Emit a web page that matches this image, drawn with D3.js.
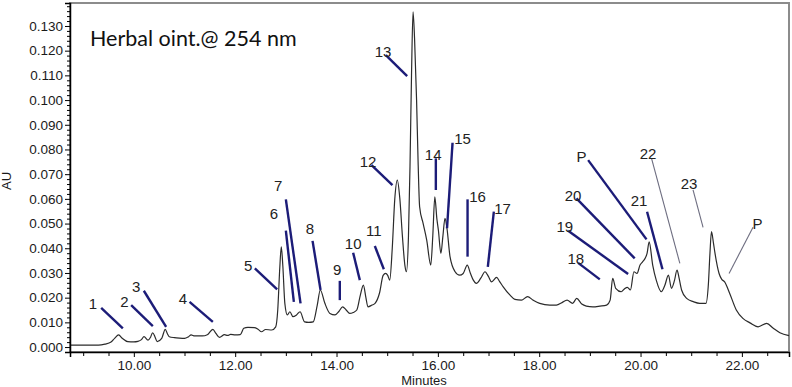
<!DOCTYPE html>
<html>
<head>
<meta charset="utf-8">
<script src="https://cdn.jsdelivr.net/npm/d3@7/dist/d3.min.js"></script>
<style>
  html, body { margin: 0; padding: 0; background: #fff; }
  svg { display: block; }
</style>
</head>
<body>
<svg id="chart" width="792" height="387"></svg>
<script>
// ---------------- DATA ----------------
const minutes = [8.74,9.00,9.30,9.43,9.55,9.62,9.70,9.77,9.88,10.00,10.08,10.15,10.20,10.28,10.33,10.37,10.42,10.46,10.55,10.62,10.66,10.70,10.80,10.90,11.00,11.08,11.13,11.20,11.35,11.45,11.56,11.62,11.69,11.79,11.85,11.91,12.00,12.10,12.17,12.25,12.38,12.45,12.52,12.60,12.72,12.80,12.84,12.88,12.91,12.94,12.98,13.03,13.08,13.14,13.21,13.28,13.37,13.45,13.54,13.62,13.68,13.77,13.87,13.97,14.05,14.12,14.19,14.26,14.33,14.40,14.47,14.53,14.58,14.62,14.70,14.76,14.85,14.92,14.97,15.01,15.05,15.10,15.15,15.20,15.25,15.30,15.35,15.38,15.42,15.45,15.48,15.51,15.54,15.58,15.61,15.64,15.71,15.78,15.86,15.90,15.94,15.98,16.01,16.06,16.10,16.14,16.18,16.24,16.34,16.43,16.50,16.58,16.64,16.70,16.76,16.85,16.93,17.00,17.06,17.16,17.22,17.29,17.42,17.52,17.65,17.77,17.88,18.01,18.21,18.34,18.45,18.55,18.66,18.74,18.84,18.93,19.06,19.20,19.33,19.40,19.45,19.51,19.62,19.68,19.74,19.80,19.87,19.93,19.99,20.04,20.09,20.13,20.17,20.24,20.31,20.41,20.48,20.55,20.61,20.67,20.72,20.76,20.81,20.91,21.04,21.17,21.29,21.34,21.37,21.40,21.44,21.47,21.55,21.60,21.66,21.76,21.89,22.02,22.16,22.32,22.49,22.62,22.75,22.93];
const absorbance = [0.0008,0.0008,0.0008,0.0012,0.0020,0.0035,0.0049,0.0036,0.0022,0.0021,0.0023,0.0030,0.0042,0.0028,0.0040,0.0058,0.0040,0.0022,0.0035,0.0072,0.0055,0.0042,0.0038,0.0036,0.0035,0.0042,0.0049,0.0045,0.0045,0.0050,0.0072,0.0055,0.0039,0.0050,0.0047,0.0051,0.0049,0.0050,0.0076,0.0080,0.0079,0.0072,0.0062,0.0071,0.0069,0.0082,0.0150,0.0320,0.0406,0.0330,0.0177,0.0130,0.0143,0.0123,0.0130,0.0143,0.0102,0.0100,0.0102,0.0170,0.0231,0.0177,0.0136,0.0130,0.0145,0.0163,0.0150,0.0136,0.0140,0.0150,0.0210,0.0251,0.0200,0.0163,0.0170,0.0177,0.0220,0.0290,0.0298,0.0290,0.0271,0.0400,0.0600,0.0676,0.0600,0.0450,0.0330,0.0305,0.0450,0.0730,0.1100,0.1357,0.1250,0.1000,0.0750,0.0568,0.0500,0.0433,0.0332,0.0450,0.0608,0.0520,0.0474,0.0379,0.0450,0.0521,0.0480,0.0366,0.0305,0.0291,0.0298,0.0332,0.0300,0.0271,0.0258,0.0280,0.0305,0.0285,0.0264,0.0282,0.0265,0.0244,0.0211,0.0193,0.0190,0.0204,0.0190,0.0177,0.0170,0.0170,0.0180,0.0190,0.0177,0.0197,0.0174,0.0166,0.0163,0.0166,0.0170,0.0190,0.0278,0.0238,0.0224,0.0235,0.0242,0.0231,0.0305,0.0298,0.0332,0.0345,0.0359,0.0380,0.0426,0.0332,0.0271,0.0224,0.0250,0.0291,0.0238,0.0270,0.0312,0.0280,0.0231,0.0197,0.0184,0.0177,0.0177,0.0258,0.0380,0.0467,0.0420,0.0379,0.0298,0.0275,0.0264,0.0217,0.0150,0.0116,0.0098,0.0082,0.0096,0.0076,0.0058,0.0046];

const xTickLabels = ["10.00","12.00","14.00","16.00","18.00","20.00","22.00"];
const yTickLabels = ["0.000","0.010","0.020","0.030","0.040","0.050","0.060","0.070","0.080","0.090","0.100","0.110","0.120","0.130"];

// peak annotations (in data units: minutes / AU)
const peakIds    = ["1","2","3","4","5","6","7","8","9","10","11","12","13","14","15","16","17","P1","20","19","18","21","22","23","P2"];
const peakText   = ["1","2","3","4","5","6","7","8","9","10","11","12","13","14","15","16","17","P","20","19","18","21","22","23","P"];
const labelT     = [9.191,9.816,10.045,10.967,12.256,12.763,12.848,13.473,14.012,14.328,14.737,14.624,14.920,15.907,16.487,16.783,17.276,18.836,18.668,18.506,18.723,19.971,20.150,20.959,22.307];
const labelV     = [0.0178,0.0183,0.0244,0.0197,0.0332,0.0541,0.0656,0.0481,0.0315,0.0420,0.0471,0.0750,0.1196,0.0781,0.0845,0.0609,0.0562,0.0773,0.0615,0.0490,0.0359,0.0595,0.0784,0.0663,0.0501];
const leadT1     = [9.355,9.947,10.197,11.099,12.388,13.000,13.000,13.527,14.065,14.328,14.756,14.691,14.973,15.960,16.290,16.586,17.105,18.966,18.735,18.571,18.768,20.129,20.217,21.036,22.220];
const leadV1     = [0.0159,0.0170,0.0228,0.0183,0.0319,0.0471,0.0598,0.0430,0.0268,0.0382,0.0409,0.0737,0.1182,0.0764,0.0827,0.0598,0.0548,0.0757,0.0602,0.0471,0.0341,0.0548,0.0764,0.0636,0.0485];
const leadT2     = [9.783,10.375,10.637,11.559,12.828,13.158,13.290,13.685,14.065,14.460,14.934,15.104,15.394,15.960,16.181,16.586,16.986,20.118,19.885,19.755,19.196,20.433,20.776,21.234,21.747];
const leadV2     = [0.0076,0.0085,0.0082,0.0102,0.0234,0.0183,0.0177,0.0231,0.0190,0.0271,0.0315,0.0656,0.1097,0.0636,0.0481,0.0366,0.0325,0.0436,0.0359,0.0296,0.0274,0.0315,0.0339,0.0485,0.0298];

const titleText = "Herbal oint.@ 254 nm";
const xTitle = "Minutes";
const yTitle = "AU";

// ---------------- LAYOUT ----------------
const plotL = 70, plotR = 789, plotT = 3, plotB = 352;

const svg = d3.select("#chart");
const x = d3.scaleLinear().domain([8.74, 22.93]).range([plotL, plotR]);
const y = d3.scaleLinear().domain([-0.0020, 0.1393]).range([plotB, plotT]);

const tickFont = "'Liberation Sans', Arial, sans-serif";

// frame (gray top/right)
svg.append("rect")
  .attr("x", plotL).attr("y", plotT)
  .attr("width", plotR - plotL).attr("height", plotB - plotT)
  .attr("fill", "none").attr("stroke", "#8c8c8c").attr("stroke-width", 2);

// trace
const pts = minutes.map((t, i) => [t, absorbance[i]]);
const line = d3.line().x(d => x(d[0])).y(d => y(d[1])).curve(d3.curveMonotoneX);
svg.append("path")
  .datum(pts)
  .attr("d", line)
  .attr("fill", "none")
  .attr("stroke", "#2b2b2b")
  .attr("stroke-width", 1.2);

// x axis
const xMajor = xTickLabels.map(Number);
const xMinor = d3.range(9.0, 22.93, 0.5).filter(v => !xMajor.some(m => Math.abs(m - v) < 1e-6));
const xAxis = d3.axisBottom(x).tickValues(xMajor).tickFormat((d, i) => xTickLabels[i]).tickSize(5).tickPadding(3);
const gx = svg.append("g").attr("transform", `translate(0,${plotB})`).call(xAxis);
gx.select(".domain").attr("stroke", "#000").attr("stroke-width", 1.5);
gx.selectAll("text").attr("font-family", tickFont).attr("font-size", 13.5).attr("fill", "#1a1a1a");
const gxm = svg.append("g").attr("transform", `translate(0,${plotB})`)
  .call(d3.axisBottom(x).tickValues(xMinor).tickFormat("").tickSize(4));
gxm.select(".domain").remove();

// y axis
const yMajor = yTickLabels.map(Number);
const yAxis = d3.axisLeft(y).tickValues(yMajor).tickFormat((d, i) => yTickLabels[i]).tickSize(5).tickPadding(2);
const gy = svg.append("g").attr("transform", `translate(${plotL},0)`).call(yAxis);
gy.select(".domain").attr("stroke", "#000").attr("stroke-width", 1.5);
gy.selectAll("text").attr("font-family", tickFont).attr("font-size", 13.5).attr("fill", "#1a1a1a");
const yMinor = d3.range(0.002, 0.1393, 0.002).filter(v => Math.round(v * 1000) % 10 !== 0);
const gym = svg.append("g").attr("transform", `translate(${plotL},0)`)
  .call(d3.axisLeft(y).tickValues(yMinor).tickFormat("").tickSize(3));
gym.select(".domain").remove();

// axis titles
svg.append("text").attr("x", 424).attr("y", 385)
  .attr("text-anchor", "middle").attr("font-family", tickFont).attr("font-size", 13).attr("fill", "#1a1a1a")
  .text(xTitle);
svg.append("text").attr("transform", "translate(11,181) rotate(-90)")
  .attr("text-anchor", "middle").attr("font-family", tickFont).attr("font-size", 13).attr("fill", "#1a1a1a")
  .text(yTitle);

// chart title
svg.append("text").attr("x", 90).attr("y", 46)
  .attr("font-family", "Lato, 'Open Sans', sans-serif").attr("font-size", 21.5).attr("fill", "#111")
  .text(titleText);

// leader lines
const thin = new Set(["22", "23", "P2"]);
svg.append("g").selectAll("line").data(peakIds).join("line")
  .attr("x1", (d, i) => x(leadT1[i])).attr("y1", (d, i) => y(leadV1[i]))
  .attr("x2", (d, i) => x(leadT2[i])).attr("y2", (d, i) => y(leadV2[i]))
  .attr("stroke", d => thin.has(d) ? "#6d6d80" : "#1c1c78")
  .attr("stroke-width", d => thin.has(d) ? 1.1 : 2.4);

// peak labels
svg.append("g").selectAll("text").data(peakIds).join("text")
  .attr("x", (d, i) => x(labelT[i])).attr("y", (d, i) => y(labelV[i]))
  .attr("text-anchor", "middle").attr("dominant-baseline", "central")
  .attr("font-family", tickFont).attr("font-size", 15).attr("fill", "#222")
  .text((d, i) => peakText[i]);
</script>
</body>
</html>
